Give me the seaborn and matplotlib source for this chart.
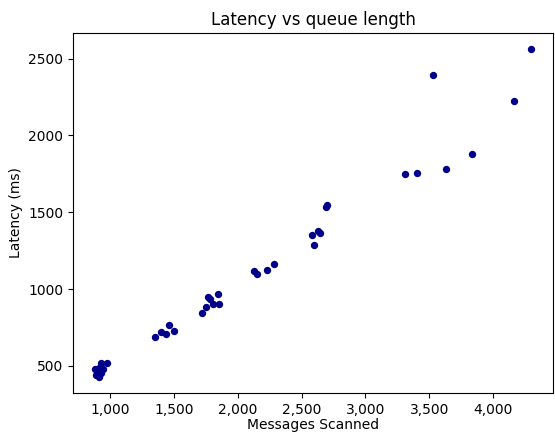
import numpy as np
import pandas as pd
import seaborn as sns
import matplotlib
matplotlib.use("Agg")
import matplotlib.pyplot as plt
from matplotlib.ticker import FuncFormatter

# values
messages = [4299, 3530, 4165, 3833, 3634, 3405, 3312,
            2690, 2700, 2579, 2630, 2640, 2597,
            2281, 2226, 2125, 2153,
            1840, 1762, 1785, 1848, 1801, 1746, 1721,
            1459, 1399, 1433, 1500, 1348,
            977, 928, 878, 889, 909, 940, 927, 914, 907, 895]
latency = [2560, 2393, 2222, 1882, 1784, 1756, 1750,
           1535, 1545, 1355, 1377, 1368, 1287,
           1166, 1127, 1116, 1096,
           967, 945, 934, 900, 900, 883, 845,
           763, 722, 705, 726, 690,
           516, 521, 482, 438, 430, 477, 456, 445, 488, 465]

df = pd.DataFrame({"Messages Scanned": messages, "Latency (ms)": latency})

fig, ax = plt.subplots(figsize=(5.55, 4.33), dpi=100)
sns.scatterplot(data=df, x="Messages Scanned", y="Latency (ms)", color="darkblue",
                s=28, linewidth=0, ax=ax)
ax.set_title("Latency vs queue length", fontsize=12)
ax.set_xlabel("Messages Scanned", labelpad=1)
ax.xaxis.set_major_formatter(FuncFormatter(lambda v, p: "{:,.0f}".format(v)))
fig.subplots_adjust(left=0.1315, right=0.9964, top=0.9238, bottom=0.0924)
fig.savefig("out.png", dpi=100)
